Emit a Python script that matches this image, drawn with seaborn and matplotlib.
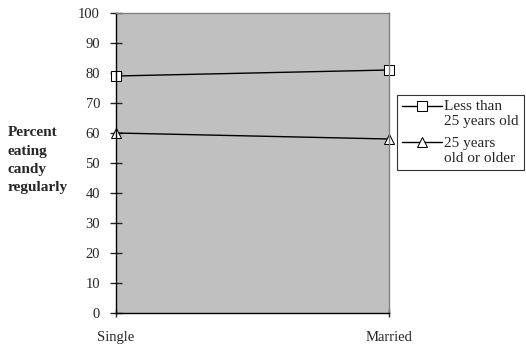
import matplotlib
matplotlib.use("Agg")
import matplotlib.pyplot as plt
from matplotlib.transforms import Affine2D
import seaborn as sns
import pandas as pd

# Marital status categories and share eating candy regularly
status = ["Single", "Married"]
under_25 = [79, 81]
over_25 = [60, 58]
series_names = ["Less than\n25 years old", "25 years\nold or older"]

df = pd.DataFrame({
    "status": status * 2,
    "x": [0, 1] * 2,
    "pct": under_25 + over_25,
    "group": [series_names[0]] * 2 + [series_names[1]] * 2,
})

sns.set_style("white")
plt.rcParams["font.family"] = ["Liberation Serif", "DejaVu Serif"]

fig = plt.figure(figsize=(5.26, 3.44), dpi=100)
ax = fig.add_axes([116 / 526, 31 / 344, 273 / 526, 300 / 344])
ax.set_facecolor("#c0c0c0")

sns.lineplot(data=df, x="x", y="pct", hue="group", style="group",
             markers={series_names[0]: "s", series_names[1]: "^"},
             dashes=False, palette=["black", "black"], ax=ax,
             markerfacecolor="white", markeredgecolor="black",
             markersize=7.5, linewidth=1, legend=True, clip_on=False)

ax.set_xlim(0, 1)
ax.set_ylim(0, 100)
ax.set_yticks(range(0, 101, 10))
ax.set_xticks([0, 1])
ax.set_xticklabels(status)
ax.set_xlabel("")
ax.set_ylabel("")
for s in ["left", "bottom"]:
    ax.spines[s].set_color("black")
    ax.spines[s].set_linewidth(1)
for s in ["top", "right"]:
    ax.spines[s].set_color("#808080")
    ax.spines[s].set_linewidth(1)
ax.tick_params(axis="y", direction="inout", length=8, width=1, labelsize=10.5, pad=7.5, left=True)
ax.tick_params(axis="x", direction="inout", length=6, width=1, labelsize=10.5, pad=10, bottom=True)
for lbl in ax.get_xticklabels():
    lbl.set_horizontalalignment("center")

fig.text(8 / 526, 1 - 126 / 344, "Percent\neating\ncandy\nregularly", fontweight="bold",
         fontsize=11, ha="left", va="top", linespacing=1.55)

handles, labels = ax.get_legend_handles_labels()
ax.get_legend().remove()
for h in handles:
    h.set_clip_on(False)
leg = fig.legend(handles, labels, loc="upper left", bbox_to_anchor=(397 / 526, 1 - 95 / 344),
                 frameon=True, fontsize=11, handlelength=2.6, handletextpad=0.15,
                 borderpad=0.35, labelspacing=0.55, fancybox=False, edgecolor="black",
                 borderaxespad=0)
leg.get_frame().set_linewidth(0.8)
for t in leg.get_texts():
    t.set_linespacing(1.2)
# keep each legend symbol level with the first line of its label
for h in leg.legend_handles:
    h.set_transform(h.get_transform() + Affine2D().translate(0, 8))

fig.savefig("out.png", dpi=100)
